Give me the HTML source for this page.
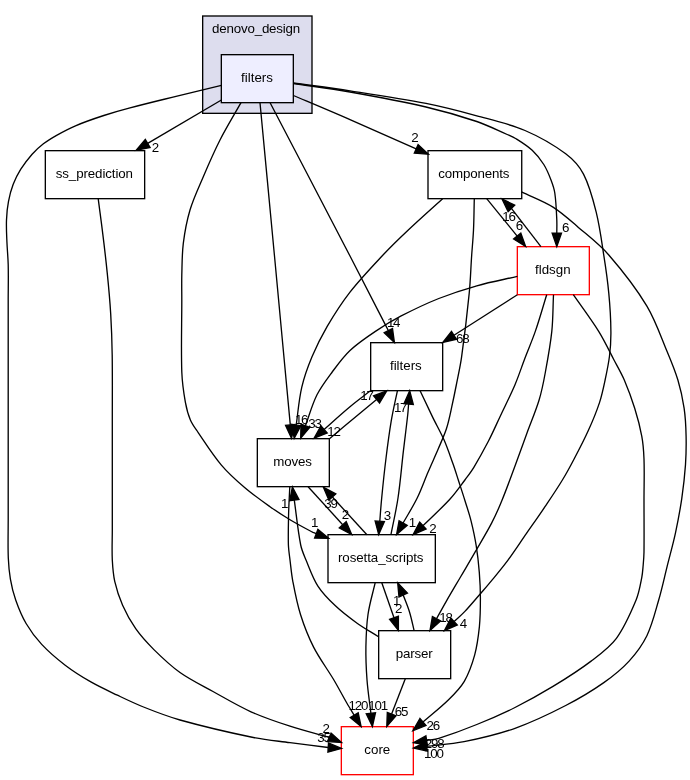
<!DOCTYPE html>
<html><head><meta charset="utf-8"><title>denovo_design/filters directory dependency graph</title>
<style>
html,body{margin:0;padding:0;background:#fff;}
svg{display:block;will-change:transform;opacity:0.999;}
text{font-family:"Liberation Sans",sans-serif;font-size:13.33px;fill:#000;}
text.l{letter-spacing:-1.2px;}
</style></head><body>
<svg width="690" height="780" viewBox="0 0 690 780">
<rect x="0" y="0" width="690" height="780" fill="#fff"/>
<g id="clust"><rect x="202.67" y="16.00" width="109.33" height="97.33" fill="#ddddee" stroke="#000" stroke-width="1.33"/>
<text x="212.1" y="32.5" textLength="88.1">denovo_design</text></g>
<g id="n_f0"><rect x="221.33" y="54.67" width="72.00" height="48.00" fill="#eeeeff" stroke="#000" stroke-width="1.33"/>
<text x="257.03" y="81.57" text-anchor="middle">filters</text></g>
<g id="n_ss"><rect x="45.33" y="150.67" width="99.33" height="48.00" fill="#fff" stroke="#000" stroke-width="1.33"/>
<text x="55.7" y="177.57" textLength="77.3">ss_prediction</text></g>
<g id="n_comp"><rect x="428.00" y="150.67" width="93.73" height="48.00" fill="#fff" stroke="#000" stroke-width="1.33"/>
<text x="438.2" y="177.57" textLength="71.3">components</text></g>
<g id="n_fld"><rect x="517.33" y="246.67" width="72.00" height="48.00" fill="#fff" stroke="#f00" stroke-width="1.33"/>
<text x="552.83" y="273.57" text-anchor="middle">fldsgn</text></g>
<g id="n_f1"><rect x="370.67" y="342.67" width="72.00" height="48.00" fill="#fff" stroke="#000" stroke-width="1.33"/>
<text x="405.87" y="369.57" text-anchor="middle">filters</text></g>
<g id="n_mov"><rect x="257.33" y="438.67" width="72.00" height="48.00" fill="#fff" stroke="#000" stroke-width="1.33"/>
<text x="273.2" y="465.57" textLength="38.6">moves</text></g>
<g id="n_ros"><rect x="328.00" y="534.67" width="107.33" height="48.00" fill="#fff" stroke="#000" stroke-width="1.33"/>
<text x="338.0" y="561.57" textLength="85.5">rosetta_scripts</text></g>
<g id="n_par"><rect x="378.67" y="630.67" width="72.00" height="48.00" fill="#fff" stroke="#000" stroke-width="1.33"/>
<text x="395.7" y="657.57" textLength="37.1">parser</text></g>
<g id="n_core"><rect x="341.33" y="726.67" width="72.00" height="48.00" fill="#fff" stroke="#f00" stroke-width="1.33"/>
<text x="377.33" y="753.57" text-anchor="middle">core</text></g>
<g id="e_f0_core"><path d="M221.4,85.4C205.9,89.1 190.4,92.8 175.0,96.6C160.0,100.3 144.9,103.9 130.0,107.9C121.2,110.2 112.4,112.7 103.8,115.5C94.3,118.6 84.7,121.9 75.5,125.8C69.0,128.5 62.7,131.9 56.6,135.3C52.0,137.9 47.5,140.6 43.4,143.8C39.4,146.9 35.5,150.4 32.1,154.2C28.0,158.9 24.1,163.9 20.8,169.2C17.8,174.0 15.2,179.1 13.2,184.3C11.1,189.8 9.6,195.5 8.5,201.3C7.3,207.4 6.7,213.7 6.5,220.0C6.2,227.1 6.6,234.3 6.9,241.5C7.2,249.2 8.0,256.9 8.2,264.6C8.5,276.4 8.2,288.2 8.2,300.0C8.2,373.3 8.2,446.7 8.2,520.0C8.2,532.7 7.8,545.4 8.3,558.0C8.6,565.1 9.2,572.2 10.4,579.1C11.6,586.2 13.3,593.2 15.7,600.0C18.5,608.0 21.8,616.2 26.1,623.5C30.5,631.0 35.8,638.1 41.7,644.4C48.8,652.0 56.9,658.9 65.2,665.2C73.4,671.5 82.3,677.0 91.3,682.2C99.7,687.0 108.6,691.0 117.4,695.2C126.0,699.3 134.6,703.5 143.5,707.0C155.5,711.8 167.6,716.5 180.0,720.0C203.4,726.5 227.2,732.1 251.0,737.0C263.9,739.7 277.0,740.9 290.0,742.7C302.7,744.4 315.5,745.9 328.2,747.5" fill="none" stroke="#000" stroke-width="1.33"/><polygon points="327.9,752.2 341.5,748.4 328.5,742.9" fill="#000" stroke="#000" stroke-width="1.33"/></g>
<g id="e_ss_core"><path d="M98.2,198.7C99.7,210.5 101.4,222.4 102.8,234.2C104.4,247.0 105.9,259.8 107.2,272.6C108.6,286.3 109.9,300.1 110.7,313.9C111.5,327.6 112.0,341.3 112.2,355.0C112.5,376.7 112.3,398.3 112.3,420.0C112.3,456.7 112.3,493.3 112.3,530.0C112.3,540.0 111.8,550.0 112.3,560.0C112.7,567.3 113.2,574.6 114.8,581.7C116.6,589.7 119.3,597.7 122.6,605.2C126.2,613.4 130.6,621.4 135.7,628.7C141.0,636.2 147.3,643.1 153.9,649.6C162.1,657.7 170.6,665.8 180.0,672.5C190.3,679.8 201.9,685.4 213.0,691.5C225.6,698.5 237.9,705.9 251.0,711.8C263.6,717.5 276.8,721.9 290.0,726.2C302.9,730.4 316.2,733.6 329.2,737.3" fill="none" stroke="#000" stroke-width="1.33"/><polygon points="327.4,741.6 341.5,742.5 331.1,733.0" fill="#000" stroke="#000" stroke-width="1.33"/></g>
<g id="e_f0_ss"><path d="M221.4,100.0L147.7,143.4" fill="none" stroke="#000" stroke-width="1.33"/><polygon points="145.3,139.4 136.2,150.2 150.1,147.5" fill="#000" stroke="#000" stroke-width="1.33"/></g>
<g id="e_f0_ros"><path d="M241.0,102.7C234.0,115.1 226.5,127.3 220.0,140.0C213.9,152.0 208.6,164.3 203.3,176.7C198.6,187.7 193.4,198.6 190.0,210.0C186.8,220.8 184.7,232.1 183.3,243.3C182.0,253.8 182.1,264.4 181.8,275.0C181.6,283.3 181.8,291.7 181.8,300.0C181.8,324.0 181.0,348.0 181.8,372.0C182.2,382.2 183.6,392.4 185.4,402.4C186.5,408.4 188.0,414.4 190.4,420.0C192.3,424.5 195.4,428.5 198.2,432.6C205.7,443.6 212.8,455.0 221.4,465.1C228.3,473.3 236.4,480.5 244.6,487.5C252.6,494.4 261.4,500.6 270.0,506.7C276.4,511.2 282.9,515.5 289.6,519.5C297.2,524.1 305.1,528.2 313.0,532.4C314.0,532.9 315.2,533.2 316.2,533.6" fill="none" stroke="#000" stroke-width="1.33"/><polygon points="314.6,538.0 328.7,538.4 317.9,529.3" fill="#000" stroke="#000" stroke-width="1.33"/></g>
<g id="e_f0_mov"><path d="M260.0,102.7C264.8,153.5 269.6,204.2 274.4,255.0C279.7,311.6 285.0,368.3 290.3,424.9" fill="none" stroke="#000" stroke-width="1.33"/><polygon points="285.6,425.4 291.5,438.2 294.9,424.5" fill="#000" stroke="#000" stroke-width="1.33"/></g>
<g id="e_f0_f1"><path d="M270.1,102.7C296.7,153.8 323.5,204.9 350.0,256.0C362.9,280.8 375.5,305.7 388.3,330.5" fill="none" stroke="#000" stroke-width="1.33"/><polygon points="384.2,332.7 394.4,342.4 392.5,328.4" fill="#000" stroke="#000" stroke-width="1.33"/></g>
<g id="e_f0_comp"><path d="M293.4,95.5C312.3,103.5 331.2,111.4 350.0,119.6C372.1,129.2 394.1,139.1 416.2,148.9" fill="none" stroke="#000" stroke-width="1.33"/><polygon points="414.3,153.2 428.4,154.3 418.1,144.6" fill="#000" stroke="#000" stroke-width="1.33"/></g>
<g id="e_f0_fld"><path d="M293.4,83.5C312.3,86.3 331.2,88.7 350.0,92.0C375.4,96.5 400.9,101.2 426.0,107.0C443.1,111.0 460.2,115.9 476.8,121.5C487.2,125.0 497.1,130.1 507.2,134.5C510.2,135.8 513.3,137.0 516.0,138.7C521.6,142.2 527.4,145.8 532.2,150.3C536.6,154.4 540.6,159.4 543.8,164.5C546.8,169.3 549.0,174.7 551.0,180.0C552.6,184.2 554.2,188.6 554.8,193.0C556.1,201.9 556.4,211.0 556.8,220.0C557.0,224.3 556.8,228.7 556.8,233.1" fill="none" stroke="#000" stroke-width="1.33"/><polygon points="552.1,233.1 556.8,246.4 561.5,233.1" fill="#000" stroke="#000" stroke-width="1.33"/></g>
<g id="e_f0_par"><path d="M293.4,83.0C312.3,85.6 331.2,87.9 350.0,90.8C375.4,94.7 400.8,98.4 426.0,103.4C443.1,106.8 460.0,111.2 476.8,115.8C493.0,120.2 509.7,123.9 525.0,130.5C539.3,136.6 553.3,144.6 565.7,153.8C572.8,159.1 579.4,166.3 583.5,174.1C589.6,185.7 593.0,199.2 596.2,212.2C599.7,226.3 601.6,241.0 603.8,255.4C605.8,268.0 607.6,280.7 608.8,293.4C610.0,306.0 610.8,318.7 610.9,331.4C611.0,339.6 610.5,347.9 609.5,356.0C608.5,364.1 606.8,372.1 605.1,380.0C603.5,387.6 601.9,395.3 599.5,402.6C596.3,412.2 592.4,421.6 588.2,430.8C583.9,440.4 579.0,449.7 574.1,459.0C570.4,466.1 566.6,473.2 562.4,480.0C556.9,489.1 550.9,497.9 545.0,506.7C539.0,515.7 532.7,524.5 526.5,533.4C520.3,542.3 514.4,551.4 508.0,560.1C502.8,567.1 497.2,573.8 491.6,580.6C487.6,585.5 483.4,590.2 479.3,595.0C474.5,600.5 469.9,606.1 464.9,611.4C461.5,615.0 457.7,618.1 454.1,621.5" fill="none" stroke="#000" stroke-width="1.33"/><polygon points="450.9,618.1 444.4,630.6 457.3,624.9" fill="#000" stroke="#000" stroke-width="1.33"/></g>
<g id="e_comp_mov"><path d="M442.6,198.7C431.2,209.1 419.5,219.4 408.3,230.0C399.7,238.1 391.1,246.4 383.0,255.0C371.7,267.1 360.2,279.1 350.0,292.1C341.6,302.9 334.1,314.6 327.2,326.4C321.5,336.2 316.4,346.4 312.0,356.8C307.9,366.6 304.2,376.8 301.8,387.2C298.9,399.6 298.0,412.4 296.2,425.0" fill="none" stroke="#000" stroke-width="1.33"/><polygon points="291.5,424.3 294.2,438.2 300.8,425.7" fill="#000" stroke="#000" stroke-width="1.33"/></g>
<g id="e_comp_ros"><path d="M474.3,198.7C474.0,209.1 474.0,219.6 473.5,230.0C473.1,238.3 472.3,246.7 471.7,255.0C470.8,267.8 470.5,280.6 469.2,293.4C467.1,314.6 464.6,335.7 461.6,356.8C460.3,366.3 458.1,375.6 456.3,385.0C454.9,392.2 453.4,399.5 451.8,406.7C450.2,414.0 448.8,421.4 446.5,428.5C444.3,435.4 441.1,442.1 438.3,448.8C435.0,456.6 431.4,464.2 428.1,472.0C424.4,480.6 421.3,489.6 417.2,498.0C413.0,506.6 407.8,514.7 403.1,523.0" fill="none" stroke="#000" stroke-width="1.33"/><polygon points="399.1,520.7 396.6,534.6 407.2,525.3" fill="#000" stroke="#000" stroke-width="1.33"/></g>
<g id="e_comp_fld"><path d="M486.7,198.7L517.2,236.1" fill="none" stroke="#000" stroke-width="1.33"/><polygon points="513.6,239.0 525.6,246.4 520.8,233.1" fill="#000" stroke="#000" stroke-width="1.33"/></g>
<g id="e_fld_comp"><path d="M540.9,246.6L511.4,208.4" fill="none" stroke="#000" stroke-width="1.33"/><polygon points="514.7,205.1 502.0,199.0 508.1,211.7" fill="#000" stroke="#000" stroke-width="1.33"/></g>
<g id="e_comp_core"><path d="M521.5,191.9C532.0,197.0 543.2,201.0 553.0,207.1C562.1,212.8 570.2,220.3 578.4,227.4C588.8,236.3 599.9,244.7 608.8,255.0C622.7,271.0 636.0,288.0 646.9,306.1C655.4,320.3 660.8,336.4 667.2,351.7C671.1,361.0 675.0,370.4 677.9,380.0C680.7,389.2 682.7,398.7 684.1,408.2C685.5,417.5 685.9,427.0 686.1,436.4C686.3,445.8 686.1,455.2 685.5,464.6C684.7,475.9 683.4,487.2 681.8,498.4C680.1,509.8 678.0,521.1 675.6,532.3C673.2,543.6 670.0,554.8 667.2,566.1C664.4,577.4 662.0,588.8 658.7,600.0C655.2,612.0 652.3,624.5 646.9,635.7C642.4,644.9 636.0,653.5 629.1,661.1C621.7,669.2 612.8,676.3 603.8,682.6C591.7,691.1 578.9,698.7 565.7,705.5C549.3,714.0 532.4,722.1 515.0,728.3C498.5,734.2 481.2,738.2 464.1,741.7C451.8,744.2 439.2,744.9 426.7,746.4" fill="none" stroke="#000" stroke-width="1.33"/><polygon points="426.1,741.8 413.5,748.1 427.3,751.1" fill="#000" stroke="#000" stroke-width="1.33"/></g>
<g id="e_fld_core"><path d="M573.3,294.7C581.8,306.9 590.8,318.8 598.7,331.4C604.4,340.6 609.0,350.4 614.0,360.0C617.5,366.6 621.3,373.1 624.3,380.0C628.2,389.2 631.7,398.6 634.7,408.2C637.6,417.4 640.1,426.9 641.8,436.4C643.2,443.8 643.7,451.4 644.0,459.0C644.5,472.6 644.0,486.3 644.0,500.0C644.0,517.3 644.2,534.7 644.0,552.0C643.9,556.3 643.6,560.7 643.2,565.0C642.8,569.1 642.6,573.3 641.8,577.4C640.3,585.0 639.1,592.9 636.1,600.0C630.6,613.2 624.8,626.9 616.4,638.3C609.8,647.3 600.1,654.3 591.1,661.1C579.0,670.3 566.0,678.5 553.0,686.4C540.6,693.9 527.9,701.0 515.0,707.5C502.5,713.7 489.7,719.3 476.8,724.5C464.3,729.6 451.6,734.3 438.8,738.4C434.9,739.6 430.7,739.8 426.6,740.5" fill="none" stroke="#000" stroke-width="1.33"/><polygon points="425.9,735.9 413.5,742.7 427.4,745.1" fill="#000" stroke="#000" stroke-width="1.33"/></g>
<g id="e_fld_mov"><path d="M517.4,276.4C503.9,279.5 490.2,282.0 476.8,285.8C464.0,289.4 451.2,293.6 438.8,298.5C425.8,303.7 413.1,309.8 400.7,316.2C392.0,320.7 383.5,325.9 375.4,331.4C366.6,337.3 357.7,343.3 350.0,350.5C343.3,356.8 337.8,364.5 332.2,372.0C326.8,379.3 321.1,386.7 317.0,394.8C312.1,404.6 309.3,415.4 305.4,425.7" fill="none" stroke="#000" stroke-width="1.33"/><polygon points="301.0,424.1 300.7,438.2 309.8,427.4" fill="#000" stroke="#000" stroke-width="1.33"/></g>
<g id="e_fld_f1"><path d="M517.4,294.7L454.0,335.3" fill="none" stroke="#000" stroke-width="1.33"/><polygon points="451.5,331.4 442.8,342.5 456.5,339.2" fill="#000" stroke="#000" stroke-width="1.33"/></g>
<g id="e_fld_ros"><path d="M546.7,294.7C542.9,306.9 539.5,319.3 535.3,331.4C532.2,340.4 528.4,349.1 525.0,358.0C521.6,366.9 518.7,376.0 515.0,384.7C510.4,395.5 505.0,406.0 500.0,416.7C496.2,424.8 492.6,433.0 488.5,441.0C483.8,450.0 478.9,458.9 473.7,467.6C471.1,471.9 467.9,475.9 464.9,480.0C460.2,486.2 455.7,492.7 450.5,498.5C444.1,505.7 436.9,512.2 430.0,519.0C427.7,521.3 425.3,523.4 422.9,525.6" fill="none" stroke="#000" stroke-width="1.33"/><polygon points="419.7,522.1 413.1,534.6 426.1,529.0" fill="#000" stroke="#000" stroke-width="1.33"/></g>
<g id="e_fld_par"><path d="M553.5,294.7C552.9,306.9 553.1,319.2 551.8,331.4C550.4,345.0 547.9,358.5 545.4,372.0C543.7,381.4 541.9,390.9 539.1,400.0C535.7,411.2 531.0,422.0 527.0,433.0C523.0,444.0 519.1,455.0 515.0,466.0C510.7,477.5 506.6,489.1 501.9,500.5C498.8,508.2 495.4,515.8 491.6,523.1C486.5,532.9 480.7,542.3 475.2,551.9C470.5,560.1 465.6,568.3 460.8,576.5C456.0,584.7 451.1,592.9 446.4,601.1C443.0,607.0 439.8,612.9 436.5,618.8" fill="none" stroke="#000" stroke-width="1.33"/><polygon points="432.4,616.5 430.0,630.4 440.6,621.0" fill="#000" stroke="#000" stroke-width="1.33"/></g>
<g id="e_f1_mov"><path d="M371.4,390.0C364.3,395.6 356.9,400.9 350.0,406.7C341.2,414.0 332.7,421.8 324.1,429.4" fill="none" stroke="#000" stroke-width="1.33"/><polygon points="321.0,425.9 314.1,438.2 327.2,432.9" fill="#000" stroke="#000" stroke-width="1.33"/></g>
<g id="e_mov_f1"><path d="M329.8,438.4C339.9,430.0 349.9,421.7 360.0,413.3C365.5,408.7 371.0,404.1 376.6,399.4" fill="none" stroke="#000" stroke-width="1.33"/><polygon points="379.6,403.0 386.8,390.9 373.6,395.9" fill="#000" stroke="#000" stroke-width="1.33"/></g>
<g id="e_f1_ros"><path d="M397.4,390.8C395.3,400.9 392.9,411.0 391.2,421.2C389.2,433.2 387.6,445.4 386.1,457.5C384.4,471.0 383.0,484.5 381.7,498.0C380.9,505.8 380.4,513.5 379.8,521.3" fill="none" stroke="#000" stroke-width="1.33"/><polygon points="375.1,520.9 378.7,534.6 384.4,521.7" fill="#000" stroke="#000" stroke-width="1.33"/></g>
<g id="e_ros_f1"><path d="M390.9,534.8C393.3,522.5 396.2,510.3 398.0,498.0C400.4,482.1 401.6,466.1 403.5,450.2C404.9,438.1 406.5,426.1 407.8,414.0C408.2,410.7 408.3,407.3 408.6,404.0" fill="none" stroke="#000" stroke-width="1.33"/><polygon points="413.3,404.4 409.7,390.7 404.0,403.6" fill="#000" stroke="#000" stroke-width="1.33"/></g>
<g id="e_f1_core"><path d="M420.1,390.8C424.2,399.5 428.3,408.2 432.5,416.9C436.3,424.7 440.6,432.2 444.1,440.1C447.4,447.7 450.0,455.5 452.8,463.3C454.8,468.8 456.5,474.4 458.3,480.0C460.5,486.8 462.8,493.6 464.9,500.5C467.0,507.3 469.4,514.1 471.1,521.1C473.1,529.2 474.9,537.4 476.2,545.7C477.6,554.5 478.6,563.5 479.3,572.4C480.0,581.0 480.4,589.7 480.4,598.3C480.4,607.7 480.3,617.2 479.4,626.6C478.4,636.1 477.2,645.7 474.7,654.9C472.2,664.0 469.0,673.2 464.3,681.3C460.2,688.3 454.1,694.3 448.3,700.0C440.3,707.8 431.4,714.7 423.0,722.1" fill="none" stroke="#000" stroke-width="1.33"/><polygon points="419.9,718.5 412.9,730.8 426.0,725.6" fill="#000" stroke="#000" stroke-width="1.33"/></g>
<g id="e_mov_ros"><path d="M308.1,486.7L342.7,524.7" fill="none" stroke="#000" stroke-width="1.33"/><polygon points="339.3,527.9 351.7,534.6 346.2,521.6" fill="#000" stroke="#000" stroke-width="1.33"/></g>
<g id="e_ros_mov"><path d="M366.9,534.8L332.4,497.0" fill="none" stroke="#000" stroke-width="1.33"/><polygon points="335.8,493.9 323.4,487.2 328.9,500.2" fill="#000" stroke="#000" stroke-width="1.33"/></g>
<g id="e_mov_core"><path d="M289.8,486.7C289.4,495.8 288.8,504.9 288.6,514.0C288.4,524.3 288.1,534.7 288.4,545.0C288.6,550.0 289.4,555.0 290.0,560.0C290.9,567.3 291.5,574.6 292.9,581.8C295.0,592.8 297.1,603.9 300.5,614.5C304.0,625.6 308.3,636.7 313.6,647.1C319.4,658.5 327.3,668.9 333.9,680.0C338.4,687.6 342.4,695.4 346.8,703.0C349.2,707.1 351.7,711.1 354.2,715.2" fill="none" stroke="#000" stroke-width="1.33"/><polygon points="350.2,717.6 361.1,726.6 358.2,712.8" fill="#000" stroke="#000" stroke-width="1.33"/></g>
<g id="e_par_mov"><path d="M378.5,636.7C371.4,632.2 363.9,628.1 357.1,623.2C349.6,617.8 342.1,612.2 335.4,605.8C329.0,599.8 322.6,593.4 317.9,586.1C312.8,578.1 309.7,568.8 306.0,560.0C304.0,555.1 301.7,550.2 300.7,545.0C297.8,530.2 296.4,515.1 294.3,500.1" fill="none" stroke="#000" stroke-width="1.33"/><polygon points="298.9,499.4 292.4,486.9 289.7,500.8" fill="#000" stroke="#000" stroke-width="1.33"/></g>
<g id="e_ros_core"><path d="M375.2,582.7C372.8,593.3 369.5,603.8 368.0,614.5C366.4,625.2 366.1,636.2 365.9,647.1C365.7,658.0 366.2,668.9 367.0,679.8C367.8,691.0 369.6,702.1 370.9,713.3" fill="none" stroke="#000" stroke-width="1.33"/><polygon points="366.2,713.8 372.4,726.5 375.5,712.7" fill="#000" stroke="#000" stroke-width="1.33"/></g>
<g id="e_ros_par"><path d="M381.8,582.7L394.0,617.8" fill="none" stroke="#000" stroke-width="1.33"/><polygon points="389.6,619.3 398.4,630.4 398.4,616.3" fill="#000" stroke="#000" stroke-width="1.33"/></g>
<g id="e_par_ros"><path d="M414.1,630.6C412.6,624.4 411.4,618.1 409.5,612.0C407.7,606.2 405.3,600.7 403.2,595.0" fill="none" stroke="#000" stroke-width="1.33"/><polygon points="407.5,593.1 397.7,582.9 399.0,597.0" fill="#000" stroke="#000" stroke-width="1.33"/></g>
<g id="e_par_core"><path d="M405.3,678.8L391.6,714.1" fill="none" stroke="#000" stroke-width="1.33"/><polygon points="387.3,712.4 386.8,726.5 396.0,715.8" fill="#000" stroke="#000" stroke-width="1.33"/></g>
<text class="l" x="154.9" y="152.4" text-anchor="middle">2</text>
<text class="l" x="323.4" y="741.6" text-anchor="middle">35</text>
<text class="l" x="325.6" y="732.6" text-anchor="middle">2</text>
<text class="l" x="314.1" y="527.4" text-anchor="middle">1</text>
<text class="l" x="301.1" y="423.9" text-anchor="middle">16</text>
<text class="l" x="314.5" y="427.6" text-anchor="middle">33</text>
<text class="l" x="333.4" y="435.6" text-anchor="middle">12</text>
<text class="l" x="393.1" y="326.5" text-anchor="middle">14</text>
<text class="l" x="414.4" y="142.3" text-anchor="middle">2</text>
<text class="l" x="565.2" y="231.6" text-anchor="middle">6</text>
<text class="l" x="462.9" y="628.2" text-anchor="middle">4</text>
<text class="l" x="411.9" y="526.6" text-anchor="middle">1</text>
<text class="l" x="508.5" y="220.9" text-anchor="middle">16</text>
<text class="l" x="518.9" y="230.0" text-anchor="middle">6</text>
<text class="l" x="433.4" y="758.1" text-anchor="middle">100</text>
<text class="l" x="434.1" y="747.9" text-anchor="middle">298</text>
<text class="l" x="462.2" y="342.7" text-anchor="middle">68</text>
<text class="l" x="432.4" y="533.0" text-anchor="middle">2</text>
<text class="l" x="445.5" y="621.6" text-anchor="middle">18</text>
<text class="l" x="366.5" y="400.0" text-anchor="middle">17</text>
<text class="l" x="386.8" y="519.8" text-anchor="middle">3</text>
<text class="l" x="400.1" y="411.9" text-anchor="middle">17</text>
<text class="l" x="432.8" y="730.2" text-anchor="middle">26</text>
<text class="l" x="330.4" y="508.4" text-anchor="middle">39</text>
<text class="l" x="344.9" y="519.3" text-anchor="middle">2</text>
<text class="l" x="284.1" y="508.4" text-anchor="middle">1</text>
<text class="l" x="357.8" y="710.4" text-anchor="middle">120</text>
<text class="l" x="377.6" y="710.4" text-anchor="middle">101</text>
<text class="l" x="398.2" y="613.0" text-anchor="middle">2</text>
<text class="l" x="396.0" y="604.6" text-anchor="middle">1</text>
<text class="l" x="400.9" y="716.2" text-anchor="middle">65</text>
</svg>
</body></html>
